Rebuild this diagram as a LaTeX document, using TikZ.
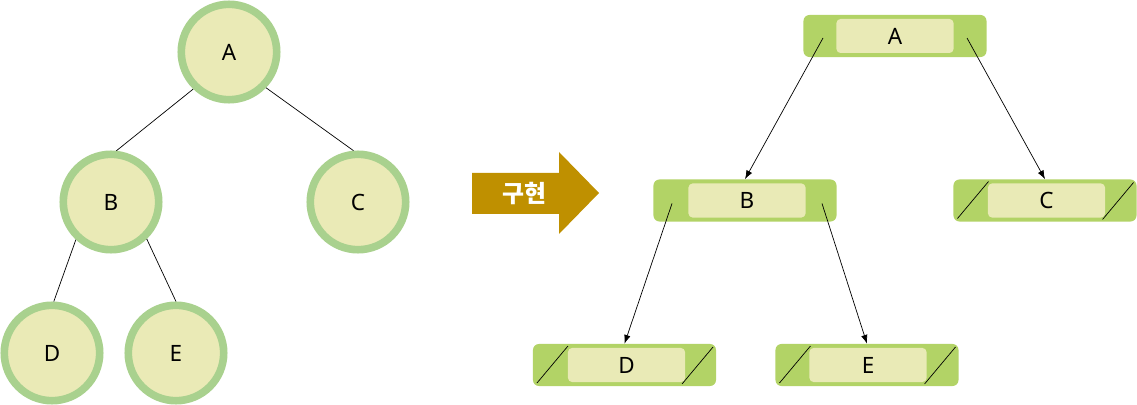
\documentclass[tikz,border=0pt]{standalone}
\usepackage{fontspec}
\setmainfont{Noto Sans}
\newfontfamily\krfont{Noto Sans CJK KR}
\usetikzlibrary{arrows.meta,calc}
\definecolor{ring-green}{HTML}{A9D18E}
\definecolor{node-cream}{HTML}{EAEAB6}
\definecolor{box-green}{HTML}{B2D366}
\definecolor{field-cream}{HTML}{E9EAB6}
\definecolor{impl-gold}{HTML}{BF9000}

\begin{document}
\begin{tikzpicture}[x=0.025cm, y=-0.025cm,
    vertex/.style={circle, draw=ring-green, line width=0.19cm, fill=node-cream, minimum size=2.385cm, inner sep=0pt, font=\fontsize{16}{19}\selectfont},
    record/.style={rectangle, rounded corners=0.15cm, fill=box-green, minimum width=4.575cm, minimum height=1.05cm, inner sep=0pt},
    field/.style={rectangle, rounded corners=0.1cm, fill=field-cream, minimum width=2.925cm, minimum height=0.85cm, inner sep=0pt, font=\fontsize{16}{19}\selectfont},
    nullptr/.style={path picture={
        \draw[line width=0.5pt] ($(path picture bounding box.south west)+(4,-3)$) -- ($(path picture bounding box.north west)+(35,2)$);
        \draw[line width=0.5pt] ($(path picture bounding box.south east)+(-34,-2)$) -- ($(path picture bounding box.north east)+(-3,3)$);}},
    edge/.style={line width=0.5pt},
    link/.style={-{Latex[length=2.2mm,width=1.6mm]}, line width=0.5pt}
]
    \useasboundingbox (0,0) rectangle (1137,405);

    % tree
    \node[vertex] (ta) at (229,52) {A};
    \node[vertex] (tb) at (111,202) {B};
    \node[vertex] (tc) at (358,202) {C};
    \node[vertex] (td) at (52,353) {D};
    \node[vertex] (te) at (176,353) {E};

    \draw[edge] (ta.226) -- (tb.84);
    \draw[edge] (ta.-44) -- (tc.95);
    \draw[edge] (tb.227) -- (td.88);
    \draw[edge] (tb.-46) -- (te.90);

    % arrow
    \fill[impl-gold] (472,173) -- (559,173) -- (559,152) -- (599,193) -- (559,234) -- (559,214) -- (472,214) -- cycle;
    \node[font=\krfont\bfseries\fontsize{17}{19}\selectfont, text=white] (impl) at (524,194) {구현};

    % linked records
    \node[record] (ra) at (895,36) {};
    \node[field] (ra-f) at (ra) {A};
    \node[record] (rb) at (745,200.5) {};
    \node[field] (rb-f) at (747,200.5) {B};
    \node[record, nullptr] (rc) at (1045,200.5) {};
    \node[field] (rc-f) at (1046.5,200.5) {C};
    \node[record, nullptr] (rd) at (624.5,365) {};
    \node[field] (rd-f) at (626.5,365) {D};
    \node[record, nullptr] (re) at (867,365) {};
    \node[field] (re-f) at (868,365) {E};

    \coordinate (ra-l) at ($(ra)+(-72,2)$);
    \coordinate (ra-r) at ($(ra)+(72,2)$);
    \coordinate (rb-l) at ($(rb)+(-73,3)$);
    \coordinate (rb-r) at ($(rb)+(77,3)$);

    \draw[link] (ra-l) -- (rb.north);
    \draw[link] (ra-r) -- (rc.north);
    \draw[link] (rb-l) -- (rd.north);
    \draw[link] (rb-r) -- (re.north);
\end{tikzpicture}
\end{document}
